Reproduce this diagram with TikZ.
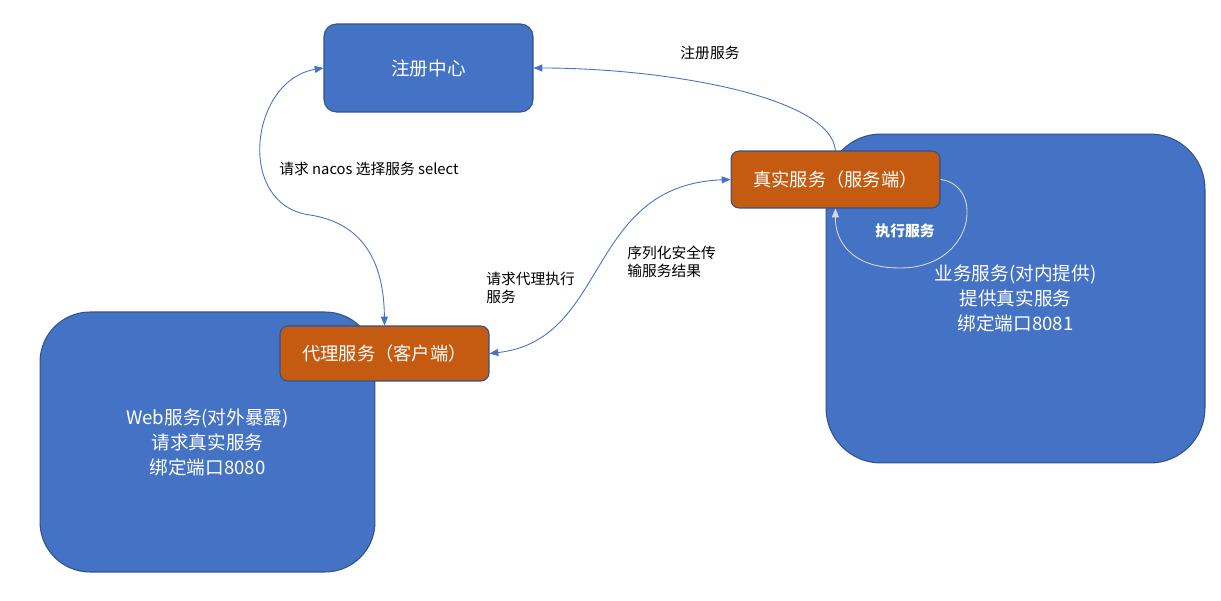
\documentclass[tikz,border=0pt]{standalone}
\usepackage{fontspec}
\setmainfont{Noto Sans CJK SC}
\usepackage{tikz}
\usetikzlibrary{arrows.meta,positioning}
\definecolor{boxblue}{HTML}{4472C4}
\definecolor{edgeblue}{HTML}{2F528F}
\definecolor{rust}{HTML}{C55A11}
\definecolor{loopgray}{HTML}{D9D9D9}

\begin{document}
\begin{tikzpicture}[x=0.02cm, y=-0.02cm,
	bigbox/.style={draw=edgeblue, line width=0.6pt, fill=boxblue, rounded corners=1cm,
		inner sep=0pt, align=center, text=white, font=\fontsize{10.6}{14.2}\selectfont},
	box/.style={draw=edgeblue, line width=0.6pt, rounded corners=0.25cm, inner sep=0pt,
		minimum width=4.18cm, align=center, text=white, font=\fontsize{10.4}{13}\selectfont},
	lbl/.style={font=\fontsize{8.4}{10.2}\selectfont, align=left, inner sep=0pt},
	arr/.style={draw=boxblue, line width=0.5pt, -{Triangle[length=5pt,width=4pt]}},
	darr/.style={arr, {Triangle[length=5pt,width=4pt]}-{Triangle[length=5pt,width=4pt]}}
]
	\useasboundingbox (0,0) rectangle (1221,601);

	% Two service hosts
	\node[bigbox, minimum width=6.7cm, minimum height=5.2cm] (web) at (207.5, 442)
		{Web服务(对外暴露)\\ 请求真实服务\\ 绑定端口8080};
	\node[bigbox, minimum width=7.58cm, minimum height=6.58cm, rounded corners=1.1cm] (biz) at (1015.5, 298.5)
		{业务服务(对内提供)\\ 提供真实服务\\ 绑定端口8081};

	% Registry, client and server
	\node[box, fill=boxblue, minimum height=1.76cm, font=\fontsize{10.6}{13}\selectfont] (reg) at (428.5, 68)
		{注册中心};
	\node[box, fill=rust, minimum height=1.1cm, rounded corners=0.16cm] (proxy) at (384.5, 353.5)
		{代理服务（客户端）};
	\node[box, fill=rust, minimum height=1.14cm, rounded corners=0.16cm] (real) at (835.5, 179.5)
		{真实服务（服务端）};

	% Client asks registry
	\draw[darr] (reg.west) .. controls (250,80) and (235,205) .. (310,215)
		.. controls (375,225) and (384,280) .. (proxy.north);
	\node[lbl] (selLbl) at (369, 169) {请求 nacos 选择服务 select};

	% Server registers itself
	\draw[arr] (real.north) .. controls (830,95) and (660,68) .. (reg.east);
	\node[lbl] (regLbl) at (710, 53) {注册服务};

	% Call and result between client and server
	\draw[darr] (proxy.east) .. controls (610,340) and (585,185) .. (real.west);
	\node[lbl, anchor=north west] (callLbl) at (486, 272) {请求代理执行\\ 服务};
	\node[lbl, anchor=north west] (resLbl) at (627, 246) {序列化安全传\\ 输服务结果};

	% Server runs the service
	\draw[arr, draw=loopgray] (real.east) .. controls (985,185) and (975,268) .. (900,268)
		.. controls (850,268) and (835,240) .. (real.south);
	\node[lbl, text=white, font=\fontsize{8.4}{10.2}\selectfont\bfseries] (runLbl) at (905, 231) {执行服务};
\end{tikzpicture}
\end{document}
